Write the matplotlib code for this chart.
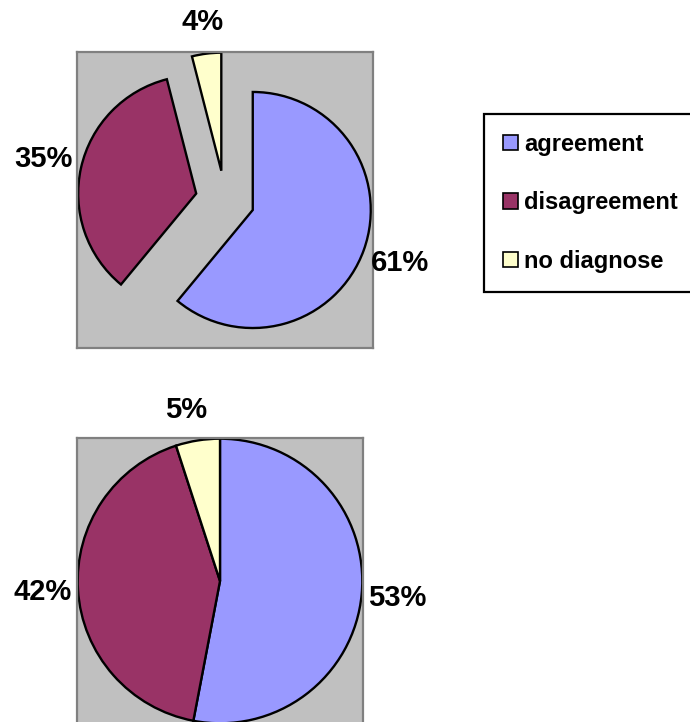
import matplotlib
matplotlib.use('Agg')
import matplotlib.pyplot as plt
from matplotlib.patches import Patch

plt.rcParams['font.family'] = ['Liberation Sans', 'DejaVu Sans']
plt.rcParams['font.weight'] = 'bold'

categories = ["agreement", "disagreement", "no diagnose"]
top_values = [61, 35, 4]
bottom_values = [53, 42, 5]
colors = ["#9999FF", "#993366", "#FFFFCC"]

W, H = 690, 722
fig = plt.figure(figsize=(W / 100, H / 100), dpi=100)


def pct_label(p):
    return f"{p:.0f}%"


def draw_pie(ax, values, explode, pctdistance):
    _, _, autotexts = ax.pie(values, colors=colors, startangle=90, counterclock=False,
                             explode=explode, autopct=pct_label, pctdistance=pctdistance,
                             wedgeprops=dict(edgecolor="black", linewidth=1.7),
                             textprops=dict(fontsize=21, fontweight="bold", color="black"))
    ax.set_facecolor("#C0C0C0")
    for sp in ax.spines.values():
        sp.set_visible(True)
        sp.set_edgecolor("#808080")
        sp.set_linewidth(1.6)
    ax.set_frame_on(True)
    ax.set_xticks([])
    ax.set_yticks([])
    for t in autotexts:
        t.set_clip_on(False)
    return autotexts


# top pie (exploded)
ax1 = fig.add_axes([77 / W, 1 - 348 / H, 296 / W, 296 / H])
top_texts = draw_pie(ax1, top_values, [0.25, 0.25, 0.25], 1.33)
ax1.set_xlim(-1.254, 1.254)
ax1.set_ylim(-1.254, 1.254)
# small label sits a bit closer to its slice
x, y = top_texts[2].get_position()
top_texts[2].set_position((x * 0.96, y * 0.96))

# bottom pie
ax2 = fig.add_axes([77 / W, 1 - 724 / H, 286 / W, 286 / H])
bottom_texts = draw_pie(ax2, bottom_values, None, 1.25)
ax2.set_xlim(-1.005, 1.005)
ax2.set_ylim(-1.005, 1.005)
x, y = bottom_texts[2].get_position()
bottom_texts[2].set_position((x - 0.04, y - 0.03))

handles = [Patch(facecolor=c, edgecolor="black", linewidth=1.2) for c in colors]
leg = fig.legend(handles, categories, loc="upper left",
                 bbox_to_anchor=(484 / W, 1 - 114 / H), borderaxespad=0,
                 fancybox=False, edgecolor="black", framealpha=1,
                 prop=dict(size=17, weight="bold"),
                 handlelength=0.65, handleheight=0.65, handletextpad=0.25,
                 labelspacing=1.5, borderpad=0.8)
leg.get_frame().set_linewidth(1.6)

fig.savefig("out.png", dpi=100)
